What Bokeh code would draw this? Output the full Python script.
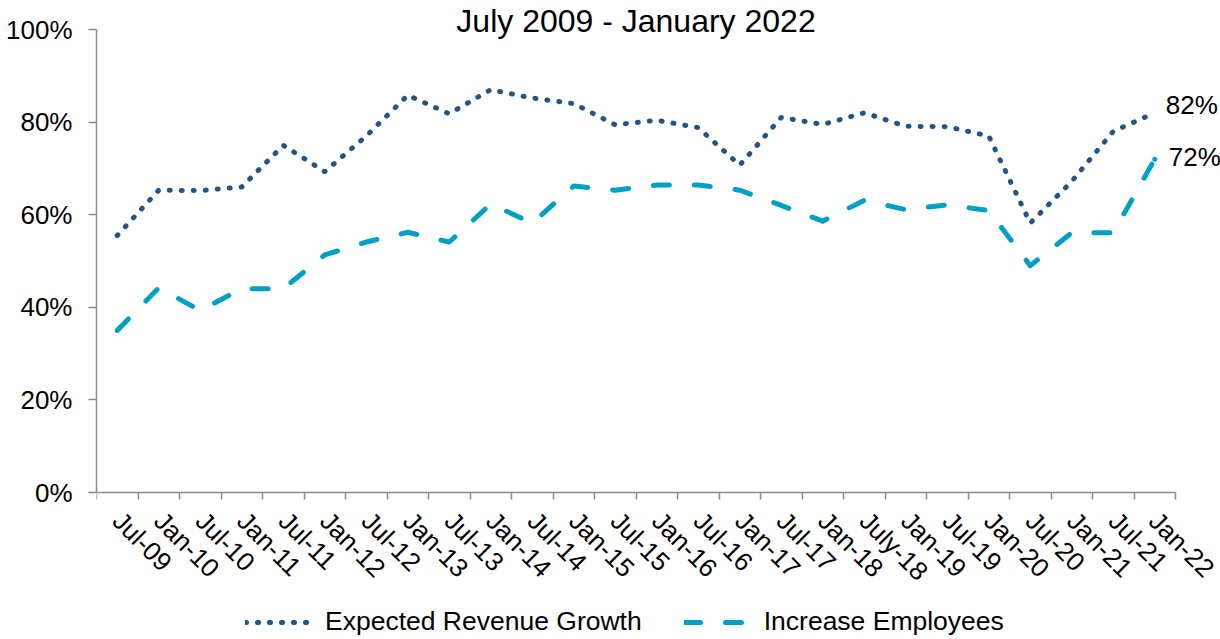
import math
from bokeh.plotting import figure
from bokeh.models import (Range1d, FixedTicker, PrintfTickFormatter, Legend,
                          LegendItem, Label, ColumnDataSource)
from bokeh.embed import file_html
from bokeh.resources import INLINE

title_text = "July 2009 - January 2022"
categories = ["Jul-09", "Jan-10", "Jul-10", "Jan-11", "Jul-11", "Jan-12", "Jul-12",
              "Jan-13", "Jul-13", "Jan-14", "Jul-14", "Jan-15", "Jul-15", "Jan-16",
              "Jul-16", "Jan-17", "Jul-17", "Jan-18", "July-18", "Jan-19", "Jul-19",
              "Jan-20", "Jul-20", "Jan-21", "Jul-21", "Jan-22"]
revenue_growth = [55.5, 65.3, 65.2, 66, 75, 69.3, 77, 85.8, 81.8, 87, 85.2, 84, 79.4,
                  80.4, 78.8, 70.7, 81, 79.5, 82, 79.1, 79, 77, 58.2, 67.2, 78, 82]
increase_employees = [35, 44.2, 39.3, 44, 44, 51.3, 54.1, 56.2, 54.1, 62.3, 58.2, 66.2,
                      65.3, 66.4, 66.4, 65.3, 62, 58.6, 63.1, 61.1, 62.1, 60.9, 49, 56.1,
                      56.1, 72]
series_names = ["Expected Revenue Growth", "Increase Employees"]
y_ticks = [0, 20, 40, 60, 80, 100]

FONT = "Liberation Sans"
DARK = "#245483"
TEAL = "#00A0C2"
AXIS = "#8c8c8c"

n = len(categories)
idx = list(range(n))
src = ColumnDataSource(dict(x=idx, rev=revenue_growth, emp=increase_employees))

# axes span x 96..1175 and y 29..492 (px); the frame covers the whole canvas
# right of the y axis so that title, end labels, tick labels and legend fit
W, H, LEFT = 1220, 639, 96
x_lo, x_hi = -0.5, n - 0.5
ppx = (1175 - LEFT) / n
x_end = x_hi + (W - 1175) / ppx
ppy = (492 - 29) / (y_ticks[-1] - y_ticks[0])
y_start = y_ticks[0] - (H - 492) / ppy
y_end = y_ticks[-1] + 29 / ppy

p = figure(width=W, height=H, output_backend="svg", toolbar_location=None,
           x_range=Range1d(x_lo, x_end), y_range=Range1d(y_start, y_end),
           min_border_left=LEFT, min_border_right=0, min_border_top=0,
           min_border_bottom=0)
p.outline_line_color = None
p.grid.visible = False
p.background_fill_color = "white"

# axes
xa = p.xaxis[0]
xa.fixed_location = y_ticks[0]
xa.bounds = (x_lo, x_hi)
xa.ticker = FixedTicker(ticks=idx, minor_ticks=[i - 0.5 for i in range(n + 1)])
xa.major_label_overrides = {i: c for i, c in enumerate(categories)}
xa.major_label_orientation = -math.pi / 4
xa.major_tick_line_color = None
xa.major_tick_out = 0
xa.major_tick_in = 0
xa.minor_tick_out = 7
xa.minor_tick_in = 0
xa.minor_tick_line_color = AXIS
xa.minor_tick_line_width = 1.5
xa.axis_line_color = AXIS
xa.axis_line_width = 1.5
xa.major_label_standoff = 17
xa.major_label_text_font = FONT
xa.major_label_text_font_size = "26px"
xa.major_label_text_color = "black"

ya = p.yaxis[0]
ya.bounds = (y_ticks[0], y_ticks[-1])
ya.ticker = FixedTicker(ticks=y_ticks, minor_ticks=[])
ya.formatter = PrintfTickFormatter(format="%d%%")
ya.major_tick_out = 8
ya.major_tick_in = 0
ya.major_tick_line_color = AXIS
ya.major_tick_line_width = 1.5
ya.minor_tick_line_color = None
ya.axis_line_color = AXIS
ya.axis_line_width = 1.5
ya.major_label_standoff = 16
ya.major_label_text_font = FONT
ya.major_label_text_font_size = "26px"
ya.major_label_text_color = "black"

# series
r_rev = p.line("x", "rev", source=src, color=DARK, line_width=5,
               line_dash="1 11", line_cap="round", line_join="round")
r_emp = p.line("x", "emp", source=src, color=TEAL, line_width=5,
               line_dash="16 25", line_cap="round", line_join="round")
p.scatter(x=[idx[-1]], y=[increase_employees[-1]], size=5, color=TEAL, line_color=None)

# data labels
p.add_layout(Label(x=idx[-1], y=revenue_growth[-1], text=f"{revenue_growth[-1]:g}%",
                   x_offset=11, y_offset=8, text_baseline="middle",
                   text_font=FONT, text_font_size="26px", text_color="black"))
p.add_layout(Label(x=idx[-1], y=increase_employees[-1], text=f"{increase_employees[-1]:g}%",
                   x_offset=14, y_offset=2, text_baseline="middle",
                   text_font=FONT, text_font_size="26px", text_color="black"))

# title (overlapping the top of the plot area, as in the original)
p.add_layout(Label(x=(n - 1) / 2, y=y_ticks[-1], text=title_text,
                   text_align="center", text_baseline="middle", y_offset=9,
                   text_font=FONT, text_font_size="32px", text_color="black"))

legend = Legend(items=[LegendItem(label=series_names[0], renderers=[r_rev]),
                       LegendItem(label=series_names[1], renderers=[r_emp])],
                orientation="horizontal", location=(149, 2),
                glyph_width=65, glyph_height=26, label_standoff=15, spacing=42,
                padding=0, margin=0, border_line_color=None,
                background_fill_alpha=0,
                label_text_font=FONT, label_text_font_size="26.5px",
                label_text_color="black")
p.add_layout(legend)

open("out.html", "w").write(file_html(p, INLINE))
